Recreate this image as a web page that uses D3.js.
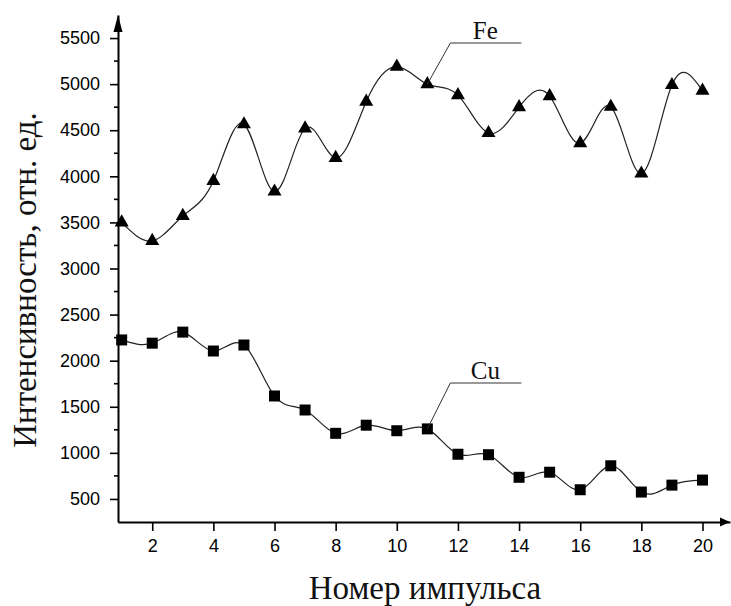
<!DOCTYPE html>
<html>
<head>
<meta charset="utf-8">
<script src="https://cdn.jsdelivr.net/npm/d3@7"></script>
<style>
  html, body { margin: 0; padding: 0; background: #fff; }
  svg { display: block; }
</style>
</head>
<body>
<svg id="chart" width="731" height="606"></svg>
<script>
// Pulse numbers
const pulses = [1, 2, 3, 4, 5, 6, 7, 8, 9, 10, 11, 12, 13, 14, 15, 16, 17, 18, 19, 20];
// Line intensities, arbitrary units
const feValues = [3500, 3300, 3570, 3950, 4565, 3835, 4520, 4200, 4810, 5190,
                  5000, 4880, 4470, 4750, 4870, 4360, 4755, 4030, 4990, 4930];
const cuValues = [2225, 2190, 2310, 2105, 2170, 1617, 1465, 1212, 1300, 1240,
                  1260, 985, 980, 735, 790, 600, 860, 575, 650, 705];
// Axis ticks
const xTicks = [2, 4, 6, 8, 10, 12, 14, 16, 18, 20];
const yTicks = [500, 1000, 1500, 2000, 2500, 3000, 3500, 4000, 4500, 5000, 5500];
const yMinorTicks = [750, 1250, 1750, 2250, 2750, 3250, 3750, 4250, 4750, 5250];
const xTitle = "Номер импульса";
const yTitle = "Интенсивность, отн. ед.";

const svg = d3.select("#chart");
const x = d3.scaleLinear().domain([0.88, 20.9]).range([118, 730]);
const y = d3.scaleLinear().domain([250, 5750]).range([522, 15]);

const tickFont = "'Liberation Sans', Arial, sans-serif";
const serif = "'Liberation Serif', 'Times New Roman', serif";

// Curves
const line = d3.line().x((d, i) => x(pulses[i])).y(d => y(d)).curve(d3.curveNatural);
[feValues, cuValues].forEach(vals => {
  svg.append("path").attr("d", line(vals))
    .attr("fill", "none").attr("stroke", "#222").attr("stroke-width", 1.2);
});

// Markers
svg.append("g").selectAll("path").data(feValues).join("path")
  .attr("transform", (d, i) => `translate(${x(pulses[i])},${y(d)})`)
  .attr("d", d3.symbol(d3.symbolTriangle, 85))
  .attr("fill", "#000");
svg.append("g").selectAll("path").data(cuValues).join("path")
  .attr("transform", (d, i) => `translate(${x(pulses[i])},${y(d)})`)
  .attr("d", d3.symbol(d3.symbolSquare, 121))
  .attr("fill", "#000");

// Y axis
const yAxis = svg.append("g").attr("transform", `translate(${x.range()[0]},0)`)
  .call(d3.axisLeft(y).tickValues(yTicks).tickFormat(d3.format("d"))
    .tickSize(8).tickSizeOuter(0).tickPadding(10));
yAxis.selectAll(".tick text").attr("font-family", tickFont).attr("font-size", 18).attr("fill", "#000");
yAxis.selectAll(".tick line").attr("stroke", "#000").attr("stroke-width", 1.6);
yAxis.select(".domain").attr("stroke", "#000").attr("stroke-width", 2);
yAxis.selectAll(".minor").data(yMinorTicks).join("line").attr("class", "minor")
  .attr("x1", -4).attr("x2", 0).attr("y1", d => y(d)).attr("y2", d => y(d))
  .attr("stroke", "#000").attr("stroke-width", 1.6);

// X axis
const xAxis = svg.append("g").attr("transform", `translate(0,${y.range()[0]})`)
  .call(d3.axisBottom(x).tickValues(xTicks).tickFormat(d3.format("d"))
    .tickSize(9).tickSizeOuter(0).tickPadding(8));
xAxis.selectAll(".tick text").attr("font-family", tickFont).attr("font-size", 18).attr("fill", "#000");
xAxis.selectAll(".tick line").attr("stroke", "#000").attr("stroke-width", 1.6);
xAxis.select(".domain").attr("stroke", "#000").attr("stroke-width", 2);

// Axis arrowheads
const [x0, x1] = x.range();
const [yb, yt] = y.range();
svg.append("path")
  .attr("d", `M${x0},${yt} L${x0 - 4.5},${yt + 17} L${x0 + 4.5},${yt + 17} Z`)
  .attr("fill", "#000");
svg.append("path")
  .attr("d", `M${x1},${yb} L${x1 - 10},${yb - 4.5} L${x1 - 10},${yb + 4.5} Z`)
  .attr("fill", "#000");

// Axis titles
svg.append("text").attr("x", 425).attr("y", 599).attr("text-anchor", "middle")
  .attr("font-family", serif).attr("font-size", 33).attr("fill", "#111").text(xTitle);
svg.append("text").attr("transform", "translate(36,280) rotate(-90)").attr("text-anchor", "middle")
  .attr("font-family", serif).attr("font-size", 33).attr("fill", "#111").text(yTitle);

// Series labels with leader lines from the 11th pulse point
function label(name, value, elbowY) {
  const px = x(pulses[10]), py = y(value);
  svg.append("path")
    .attr("d", `M${px},${py} L${px + 23},${elbowY} L${px + 94},${elbowY}`)
    .attr("fill", "none").attr("stroke", "#333").attr("stroke-width", 1);
  svg.append("text").attr("x", px + 58).attr("y", elbowY - 4).attr("text-anchor", "middle")
    .attr("font-family", serif).attr("font-size", 25).attr("fill", "#111").text(name);
}
label("Fe", feValues[10], 43);
label("Cu", cuValues[10], 383);
</script>
</body>
</html>
